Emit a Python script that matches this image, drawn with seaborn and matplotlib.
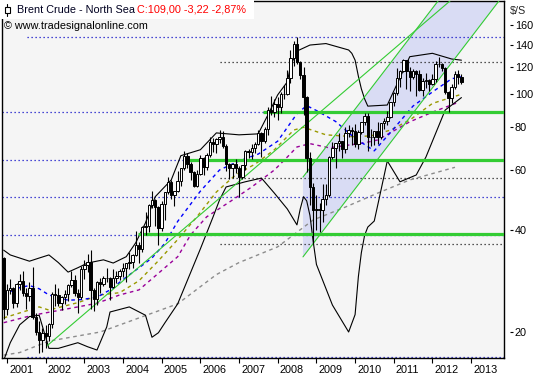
import numpy as np
import pandas as pd
import matplotlib
matplotlib.use("Agg")
import matplotlib.pyplot as plt
import matplotlib.dates as mdates
import matplotlib.transforms as mtransforms
from matplotlib.patches import Rectangle
from matplotlib.lines import Line2D
from matplotlib.ticker import NullLocator
import seaborn as sns

# ---------------- data (monthly candles, Nov 2000 .. Oct 2012) ----------------
first_month = "2000-11"
opens = [32.6, 32.9,
         23.4, 26.5, 26.9, 24.3, 27.6, 28.3, 26.1, 25.6, 26.9, 22.2, 20.0, 19.0,
         19.8, 19.5, 21.1, 25.9, 25.7, 24.4, 25.4, 25.8, 27.4, 28.4, 26.1, 25.4,
         30.6, 31.4, 32.1, 26.5, 25.0, 28.0, 27.7, 28.8, 28.9, 27.1, 28.8, 29.3,
         30.2, 30.9, 32.0, 32.2, 33.6, 36.1, 35.0, 40.7, 40.9, 47.4, 48.8, 46.5,
         40.5, 47.6, 51.5, 55.2, 50.7, 51.9, 55.6, 60.6, 65.8, 62.3, 59.0, 53.6,
         58.2, 65.0, 61.2, 66.3, 72.6, 71.2, 73.9, 75.0, 70.7, 62.5, 60.6, 62.4,
         60.9, 57.0, 61.8, 68.1, 67.8, 69.5, 71.4, 77.1, 73.0, 79.2, 90.0, 88.9,
         93.9, 91.8, 100.1, 100.3, 111.4, 127.8, 140.3, 124.1, 114.1, 98.2, 65.0, 53.5,
         45.6, 45.9, 45.6, 49.2, 50.6, 65.4, 69.3, 71.7, 72.8, 69.1, 77.0, 78.5,
         77.9, 71.2, 77.6, 82.7, 86.2, 74.7, 75.0, 78.0, 75.0, 82.3, 83.2, 85.9,
         94.8, 101.0, 111.8, 117.4, 125.9, 116.7, 112.5, 116.7, 114.9, 102.8, 109.6, 110.5,
         107.4, 110.9, 122.7, 122.9, 119.5, 101.9, 97.8, 104.9, 114.6, 112.2]
highs = [35.0, 33.2,
         27.6, 28.6, 27.2, 27.9, 29.6, 30.3, 26.9, 28.0, 31.0, 22.8, 21.5, 20.5,
         21.0, 21.3, 26.3, 27.7, 26.9, 25.6, 26.5, 27.6, 30.3, 29.5, 26.7, 31.2,
         32.6, 34.0, 34.9, 27.0, 28.3, 28.9, 29.2, 30.8, 29.0, 30.6, 30.3, 30.6,
         31.9, 32.0, 34.3, 33.8, 39.5, 36.7, 41.0, 45.0, 47.7, 52.0, 49.2, 46.9,
         48.4, 51.5, 57.0, 56.0, 52.0, 59.4, 60.9, 68.0, 67.3, 63.1, 59.6, 60.0,
         66.4, 65.5, 67.4, 74.9, 74.3, 74.2, 78.6, 78.1, 71.3, 62.9, 62.6, 64.4,
         61.5, 62.1, 68.6, 69.0, 71.2, 72.4, 78.7, 77.6, 80.3, 92.0, 99.0, 97.0,
         98.5, 101.5, 106.5, 117.6, 135.1, 143.0, 147.5, 125.0, 120.0, 99.0, 67.5, 54.7,
         50.5, 48.0, 54.5, 54.5, 66.0, 72.3, 72.0, 76.8, 72.9, 80.1, 81.4, 80.4,
         81.9, 78.7, 82.8, 88.0, 88.0, 79.0, 78.2, 83.0, 82.6, 85.0, 89.1, 95.0,
         101.7, 119.8, 117.6, 127.0, 126.0, 120.0, 119.0, 118.0, 117.6, 112.0, 115.5, 111.0,
         114.5, 125.1, 128.4, 124.0, 120.0, 102.0, 107.0, 117.0, 117.9, 115.0]
lows = [30.6, 21.8,
        22.5, 25.8, 23.6, 23.7, 26.6, 25.5, 23.3, 24.6, 21.8, 19.6, 17.3, 17.5,
        18.0, 18.8, 20.6, 23.8, 23.9, 23.2, 24.2, 24.6, 27.1, 25.6, 22.8, 25.0,
        28.6, 30.1, 23.3, 23.1, 24.0, 26.0, 27.3, 28.0, 24.9, 26.9, 27.8, 28.4,
        29.1, 28.1, 30.6, 30.8, 33.4, 32.0, 34.4, 38.6, 39.3, 46.3, 40.9, 36.0,
        39.6, 42.7, 50.8, 49.1, 47.0, 51.6, 53.6, 59.9, 60.9, 56.1, 53.3, 53.4,
        58.0, 57.9, 59.7, 65.6, 67.7, 67.1, 72.0, 69.7, 59.4, 56.3, 56.8, 58.5,
        49.9, 56.3, 59.9, 64.8, 64.7, 67.0, 71.0, 65.5, 72.0, 76.0, 87.0, 86.0,
        84.2, 87.9, 97.0, 99.7, 107.8, 121.0, 122.4, 110.6, 87.0, 59.0, 47.2, 36.2,
        40.0, 39.3, 42.0, 47.2, 50.0, 64.5, 60.7, 68.0, 65.0, 67.1, 75.1, 70.9,
        70.2, 69.0, 76.3, 81.0, 68.0, 70.3, 71.0, 71.5, 74.0, 79.2, 81.0, 85.0,
        92.4, 99.5, 105.0, 116.5, 104.0, 102.0, 110.8, 98.7, 102.0, 99.0, 104.5, 102.0,
        106.8, 109.0, 120.0, 117.0, 100.0, 88.5, 94.5, 104.0, 107.0, 107.5]
closes = [32.9, 23.4,
          26.5, 26.9, 24.3, 27.6, 28.3, 26.1, 25.6, 26.9, 22.2, 20.0, 19.0, 19.8,
          19.5, 21.1, 25.9, 25.7, 24.4, 25.4, 25.8, 27.4, 28.4, 26.1, 25.4, 30.6,
          31.4, 32.1, 26.5, 25.0, 28.0, 27.7, 28.8, 28.9, 27.1, 28.8, 29.3, 30.2,
          30.9, 32.0, 32.2, 33.6, 36.1, 35.0, 40.7, 40.9, 47.4, 48.8, 46.5, 40.5,
          47.6, 51.5, 55.2, 50.7, 51.9, 55.6, 60.6, 65.8, 62.3, 59.0, 53.6, 58.2,
          65.0, 61.2, 66.3, 72.6, 71.2, 73.9, 75.0, 70.7, 62.5, 60.6, 62.4, 60.9,
          57.0, 61.8, 68.1, 67.8, 69.5, 71.4, 77.1, 73.0, 79.2, 90.0, 88.9, 93.9,
          91.8, 100.1, 100.3, 111.4, 127.8, 140.3, 124.1, 114.1, 98.2, 65.0, 53.5, 45.6,
          45.9, 45.6, 49.2, 50.6, 65.4, 69.3, 71.7, 72.8, 69.1, 77.0, 78.5, 77.9,
          71.2, 77.6, 82.7, 86.2, 74.7, 75.0, 78.0, 75.0, 82.3, 83.2, 85.9, 94.8,
          101.0, 111.8, 117.4, 125.9, 116.7, 112.5, 116.7, 114.9, 102.8, 109.6, 110.5, 107.4,
          110.9, 122.7, 122.9, 119.5, 101.9, 97.8, 104.9, 114.6, 112.2, 109.0]

# ---------------- indicator readings (month -> value) ----------------
bb_upper_months = ["2000-12", "2001-02", "2001-08", "2001-11", "2002-02", "2002-05", "2002-08",
                   "2002-11", "2003-02", "2003-07", "2003-10", "2004-02", "2004-05", "2004-08",
                   "2004-11", "2005-04", "2005-07", "2006-01", "2006-06", "2007-01", "2007-07",
                   "2007-10", "2008-01", "2008-04", "2008-05", "2008-07", "2008-11", "2009-04",
                   "2009-11", "2009-12", "2010-01", "2010-02", "2010-03", "2010-04", "2010-05",
                   "2010-11", "2011-06", "2012-01", "2012-07", "2012-10"]
bb_upper_values = [34.8, 33.7, 32.3, 33.0, 33.7, 32.0, 30.0,
                   30.9, 31.9, 32.6, 31.9, 33.3, 36.6, 41.9,
                   50.0, 56.0, 66.0, 68.7, 77.0, 76.0, 76.5,
                   87.0, 99.6, 108.8, 121.0, 134.0, 139.6, 141.0,
                   135.0, 132.0, 126.0, 113.0, 103.8, 96.9, 92.3,
                   93.0, 129.0, 132.0, 127.0, 126.0]
bb_lower_months = ["2000-12", "2001-02", "2001-05", "2001-08", "2001-11", "2002-02", "2002-05",
                   "2002-11", "2003-02", "2003-05", "2003-08", "2003-09", "2004-03", "2004-08",
                   "2004-10", "2004-12", "2005-02", "2005-06", "2006-01", "2006-05", "2006-07",
                   "2006-09", "2007-03", "2007-08", "2007-12", "2008-04", "2008-07", "2008-08",
                   "2008-09", "2008-10", "2008-11", "2008-12", "2009-01", "2009-06", "2009-11",
                   "2010-01", "2010-02", "2010-03", "2010-04", "2010-05", "2010-07", "2010-09",
                   "2010-11", "2011-03", "2011-08", "2011-11", "2012-05", "2012-10"]
bb_lower_values = [16.5, 18.6, 21.0, 22.2, 22.4, 17.9, 17.9,
                   18.6, 18.1, 17.7, 20.7, 22.9, 23.7, 22.4,
                   19.3, 19.9, 21.3, 24.2, 35.1, 43.6, 48.9,
                   53.4, 55.3, 56.7, 51.2, 46.0, 41.3, 46.0,
                   50.0, 48.6, 44.0, 37.0, 31.6, 24.0, 20.0,
                   22.5, 29.1, 34.2, 38.5, 40.7, 42.4, 52.0,
                   63.7, 55.3, 57.9, 65.4, 89.9, 97.8]
ma_blue_months = ["2000-12", "2001-05", "2001-08", "2001-11", "2002-02", "2002-08", "2002-12",
                  "2003-05", "2003-09", "2004-02", "2004-06", "2004-10", "2005-02", "2005-06",
                  "2006-01", "2006-07", "2007-01", "2007-07", "2008-01", "2008-07", "2008-10",
                  "2009-01", "2009-07", "2010-01", "2010-07", "2011-01", "2011-07", "2012-01",
                  "2012-07", "2012-10"]
ma_blue_values = [25.8, 27.0, 27.4, 26.8, 25.7, 24.8, 24.9,
                  25.3, 26.6, 29.0, 30.9, 33.0, 36.5, 42.3,
                  51.9, 59.9, 63.7, 66.7, 72.8, 87.7, 92.6,
                  89.6, 83.2, 74.2, 68.2, 79.2, 92.3, 101.6,
                  111.1, 112.6]
ma_olive_months = ["2000-12", "2001-11", "2002-02", "2002-11", "2003-06", "2003-12", "2004-06",
                   "2004-12", "2005-06", "2005-12", "2006-06", "2006-12", "2007-06", "2007-12",
                   "2008-06", "2008-09", "2009-04", "2010-01", "2010-06", "2010-12",
                   "2011-06", "2012-01", "2012-07", "2012-10"]
ma_olive_values = [22.0, 23.7, 23.2, 24.4, 25.7, 26.1, 28.3,
                   32.4, 37.4, 43.7, 51.6, 58.0, 62.3, 68.7,
                   78.5, 80.0, 76.0, 75.0, 75.5, 78.5,
                   84.0, 94.0, 98.0, 100.0]
ma_purple_months = ["2000-12", "2001-09", "2002-11", "2003-05", "2003-12", "2004-06", "2005-06",
                    "2005-10", "2006-03", "2006-11", "2007-05", "2007-12", "2008-04", "2008-07",
                    "2008-11", "2009-05", "2010-04", "2010-08", "2011-06", "2012-01", "2012-09"]
ma_purple_values = [21.3, 22.4, 23.7, 24.3, 25.7, 26.6, 33.3,
                    38.6, 43.6, 48.9, 53.4, 59.9, 65.4, 70.0,
                    71.6, 69.6, 72.0, 73.4, 83.0, 88.6, 94.7]
ma_grey_months = ["2000-12", "2001-05", "2002-02", "2003-06", "2004-06", "2005-06", "2006-06",
                  "2007-01", "2008-01", "2008-12", "2009-10", "2010-08", "2011-06", "2012-08"]
ma_grey_values = [17.1, 17.4, 18.8, 20.0, 22.0, 24.2, 29.5,
                  32.0, 35.6, 42.7, 46.6, 51.2, 56.0, 61.0]

# horizontal levels
green_levels = [88.6, 64.1, 38.8]
green_starts = ["2007-08-15", "2005-08-07", "2004-05-22"]
blue_dot_levels = [88.6, 64.1, 49.9, 38.7]
blue_dot_long_levels = [147.5, 16.9]
blue_dot_long_start = "2001-07-08"
black_dot_levels = [124.4, 56.7, 36.3]
black_dot_start = "2006-07-05"

# trend lines / channel anchors
support_dates = ["2002-01-13", "2013-01-01"]
support_values = [18.2, 212.7]
channel_dates = ["2008-08-27", "2013-09-20"]
channel_lower = [33.26, 188.1]
channel_upper = [57.1, 322.0]

tick_years = list(range(2001, 2014))
y_ticks = [20, 40, 60, 80, 100, 120, 140, 160]

# ---------------- figure ----------------
sns.set_theme(style="white")
plt.rcParams['font.family'] = ['Liberation Sans', 'DejaVu Sans']

W, H = 533, 380
fig = plt.figure(figsize=(W / 100, H / 100), dpi=100)
fig.patch.set_facecolor('white')
ax = fig.add_axes([2 / W, 22 / H, 502 / W, 357 / H])
ax.set_facecolor('#f5f5f5')
ax.set_yscale('log')

dates = pd.date_range(first_month + "-01", periods=len(closes), freq="MS")
df = pd.DataFrame({"date": dates, "open": opens, "high": highs, "low": lows, "close": closes})

xmin = pd.Timestamp("2000-11-15")
xmax = pd.Timestamp("2013-11-07")
ymin, ymax = 16.77, 188.1

# channel fill
cd = mdates.date2num(pd.to_datetime(channel_dates))
ax.fill([cd[0], cd[1], cd[1], cd[0]],
        [channel_lower[0], channel_lower[1], channel_upper[1], channel_upper[0]],
        color='#d9dcf4', lw=0, zorder=1)

# dotted levels
dots = (0, (1, 2.2))
ax.hlines(blue_dot_levels, xmin, xmax, colors='#1010c8', linestyles=dots, lw=0.9, zorder=2)
ax.hlines(blue_dot_long_levels, pd.Timestamp(blue_dot_long_start), xmax, colors='#1010c8',
          linestyles=dots, lw=0.9, zorder=2)
ax.hlines(black_dot_levels, pd.Timestamp(black_dot_start), xmax, colors='#202020',
          linestyles=dots, lw=0.9, zorder=2)

# indicators
def ind(months, values, color, dashed=True, lw=1.0):
    s = pd.DataFrame({"d": pd.to_datetime([m + "-01" for m in months]), "v": values})
    kw = dict(linestyle=(0, (2.6, 2.6))) if dashed else {}
    sns.lineplot(data=s, x="d", y="v", ax=ax, color=color, lw=lw, zorder=3, **kw)

ind(ma_grey_months, ma_grey_values, '#8c8c8c')
ind(ma_purple_months, ma_purple_values, '#990099')
ind(ma_olive_months, ma_olive_values, '#999900')
ind(ma_blue_months, ma_blue_values, '#0000ff')
ind(bb_upper_months, bb_upper_values, 'black', dashed=False, lw=0.8)
ind(bb_lower_months, bb_lower_values, 'black', dashed=False, lw=0.8)

# trend lines
ax.plot(pd.to_datetime(support_dates), support_values, color='#33cc33', lw=0.8, zorder=3)
ax.plot(pd.to_datetime(channel_dates), channel_lower, color='#33cc33', lw=0.8, zorder=3)
ax.plot(pd.to_datetime(channel_dates), channel_upper, color='#33cc33', lw=0.8, zorder=3)

# green support/resistance levels
for lv, st in zip(green_levels, green_starts):
    ax.hlines(lv, pd.Timestamp(st), xmax, colors='#33cc33', lw=2.3, zorder=4)

# candles
up = df.close >= df.open
ax.vlines(df.date, df.low, df.high, color='black', lw=0.8, zorder=5)
ax.bar(df.date[up], (df.close - df.open)[up], bottom=df.open[up], width=23,
       color='white', edgecolor='black', lw=0.7, zorder=6)
ax.bar(df.date[~up], (df.open - df.close)[~up], bottom=df.close[~up], width=23,
       color='black', edgecolor='black', lw=0.7, zorder=6)

ax.set_xlim(xmin, xmax)
ax.set_ylim(ymin, ymax)
ax.set_xlabel('')
ax.set_ylabel('')

# right price scale (ticks detached from frame)
ax2 = ax.twinx()
ax2.set_yscale('log')
ax2.set_ylim(ymin, ymax)
ax2.set_yticks(y_ticks)
ax2.set_yticklabels([str(v) for v in y_ticks])
ax2.yaxis.set_minor_locator(NullLocator())
ax2.spines['right'].set_position(('outward', 4))
for sp in ax2.spines.values():
    sp.set_visible(False)
ax2.tick_params(axis='y', which='both', right=True, left=False, labelright=True,
                labelleft=False, direction='out', length=2.5, width=0.8, pad=1.2,
                labelsize=7.8, colors='black')
ax2.tick_params(axis='x', which='both', bottom=False, top=False, labelbottom=False)
ax2.set_ylabel('')

# main axes ticks (after twinx, which resets the left ticks)
ax.set_yticks([])
ax.yaxis.set_minor_locator(NullLocator())
ax.tick_params(axis='y', which='both', left=False, right=False, labelleft=False, labelright=False)
ax.set_xticks(pd.to_datetime([f"{y}-01-01" for y in tick_years]))
ax.set_xticklabels([str(y) for y in tick_years])
ax.tick_params(axis='x', bottom=True, direction='out', length=3.5, width=0.8,
               pad=1.5, labelsize=7.8, colors='black')
off = mtransforms.ScaledTranslation(1.5 / 72, 0, fig.dpi_scale_trans)
for lbl in ax.get_xticklabels():
    lbl.set_ha('left')
    lbl.set_transform(lbl.get_transform() + off)

for sp in ax.spines.values():
    sp.set_color('black')
    sp.set_linewidth(1.0)
    sp.set_visible(True)

fig.text(510 / W, 1 - 11 / H, "$/S", fontsize=7.8, ha='left', va='center')

# header
fig.patches.append(Rectangle((0, 1 - 19 / H), 254 / W, 19 / H, transform=fig.transFigure,
                             facecolor='white', edgecolor='none', zorder=5))
# small candle icon (symbol not available in installed fonts)
fig.lines.append(Line2D([7 / W, 7 / W], [1 - 4 / H, 1 - 16 / H], transform=fig.transFigure,
                        color='black', lw=0.8, zorder=6))
fig.patches.append(Rectangle((4.5 / W, 1 - 13 / H), 5 / W, 6 / H, transform=fig.transFigure,
                             facecolor='white', edgecolor='black', lw=0.8, zorder=7))
fig.text(17 / W, 1 - 10 / H, "Brent Crude - North Sea", fontsize=7.8, ha='left',
         va='center', color='#000020', zorder=6)
fig.text(137 / W, 1 - 10 / H, "C:109,00 -3,22 -2,87%", fontsize=7.8, ha='left',
         va='center', color='#ff0000', zorder=6)
fig.text(4 / W, 1 - 26 / H, "© www.tradesignalonline.com", fontsize=7.8, ha='left',
         va='center', color='black', zorder=6)

fig.savefig("out.png", dpi=100)
